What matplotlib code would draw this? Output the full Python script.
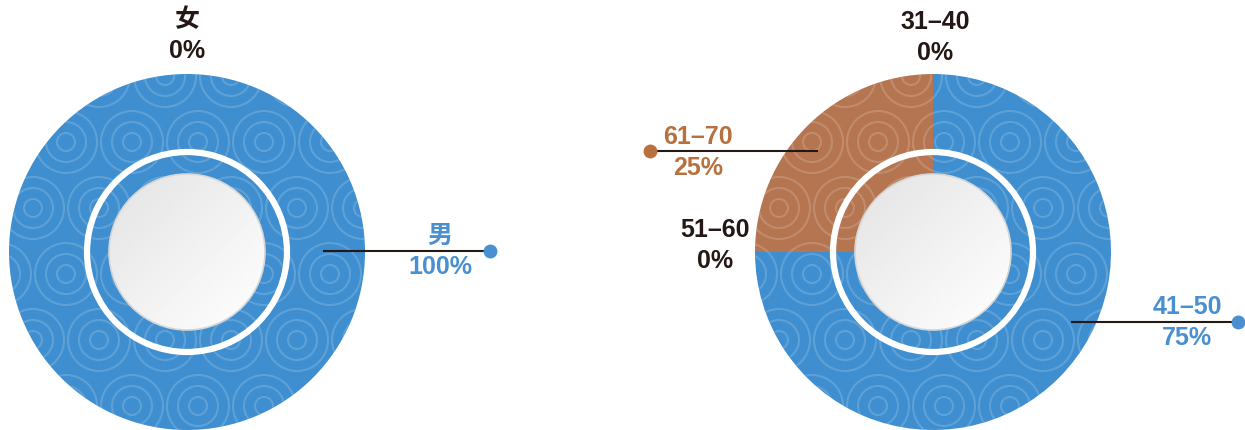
import matplotlib
matplotlib.use("Agg")
import matplotlib.pyplot as plt
from matplotlib.patches import Circle
import numpy as np

plt.rcParams['font.family'] = ['Liberation Sans', 'Noto Sans CJK SC', 'DejaVu Sans']

# data
gender_labels = ['女', '男']
gender_values = [0, 100]
age_labels = ['31–40', '41–50', '51–60', '61–70']
age_values = [0, 75, 0, 25]

BLUE = '#3e8ed0'
BROWN = '#b57550'
BLUE_TXT = '#4a8fd0'
BROWN_TXT = '#b8703f'
DARK = '#231815'

W, H = 1245, 430
fig = plt.figure(figsize=(W / 100, H / 100), dpi=100)
ax = fig.add_axes([0, 0, 1, 1])

R_OUT, R_IN, R_RING, R_CORE = 178, 76, 100, 78


def donut(center, values, colors):
    wedges, _ = ax.pie(values, colors=colors, startangle=90, counterclock=False,
                       radius=R_OUT, center=center, frame=True,
                       wedgeprops=dict(width=R_OUT - R_IN, linewidth=0))
    cx, cy = center
    # decorative concentric-arc pattern clipped to each wedge
    gx = np.arange(cx - 220, cx + 221, 66)
    gy = np.arange(cy - 220, cy + 221, 66)
    for w in wedges:
        for i, px in enumerate(gx):
            for j, py in enumerate(gy):
                ox = 33 if j % 2 else 0
                for r in (9, 20, 31):
                    c = Circle((px + ox, py), r, fill=False, lw=1.5,
                               ec='white', alpha=0.17, zorder=2)
                    ax.add_patch(c)
                    c.set_clip_path(w)
    # white ring
    ax.add_patch(Circle(center, R_RING, fill=False, ec='white', lw=4.5, zorder=3))
    # grey gradient core (darker top-left, lighter bottom-right)
    g = np.linspace(0, 1, 200)
    xx, yy = np.meshgrid(g, g)
    grad = 0.89 + 0.11 * (xx + yy) / 2
    ax.add_patch(Circle(center, R_CORE, fc='none', ec='#d6d6d6', lw=1.2, zorder=5))
    im = ax.imshow(grad, cmap='gray', vmin=0, vmax=1, origin='upper',
                   extent=(cx - R_CORE, cx + R_CORE, cy - R_CORE, cy + R_CORE),
                   zorder=4, interpolation='bilinear')
    im.set_clip_path(Circle(center, R_CORE, transform=ax.transData))


donut((187, 178), gender_values, [BLUE, BLUE])
donut((933, 178), age_values, [BLUE, BLUE, BLUE, BROWN])
ax.set_xlim(0, W)
ax.set_ylim(0, H)
ax.set_aspect('equal')
ax.axis('off')

fs = 18


def label(x, y, name, val, color, gap=31):
    ax.text(x, y, name, ha='center', va='center', fontsize=fs,
            fontweight='bold', color=color, zorder=6)
    ax.text(x, y - gap, val, ha='center', va='center', fontsize=fs,
            fontweight='bold', color=color, zorder=6)


def leader(x0, x1, y, dot_x, color):
    ax.plot([x0, x1], [y, y], color=DARK, lw=1.5, zorder=6, solid_capstyle='butt')
    ax.plot([dot_x], [y], 'o', color=color, ms=9, zorder=7)


label(187, 410, gender_labels[0], f'{gender_values[0]}%', DARK)
label(440, 194, gender_labels[1], f'{gender_values[1]}%', BLUE_TXT)
leader(323, 490, 179, 490, BLUE_TXT)

label(935, 408, age_labels[0], f'{age_values[0]}%', DARK)
label(1187, 123, age_labels[1], f'{age_values[1]}%', BLUE_TXT)
leader(1071, 1238, 108, 1238, BLUE_TXT)
label(715, 200, age_labels[2], f'{age_values[2]}%', DARK)
label(698, 293, age_labels[3], f'{age_values[3]}%', BROWN_TXT)
leader(650, 818, 279, 650, BROWN_TXT)

fig.savefig('out.png', dpi=100, facecolor='white')
